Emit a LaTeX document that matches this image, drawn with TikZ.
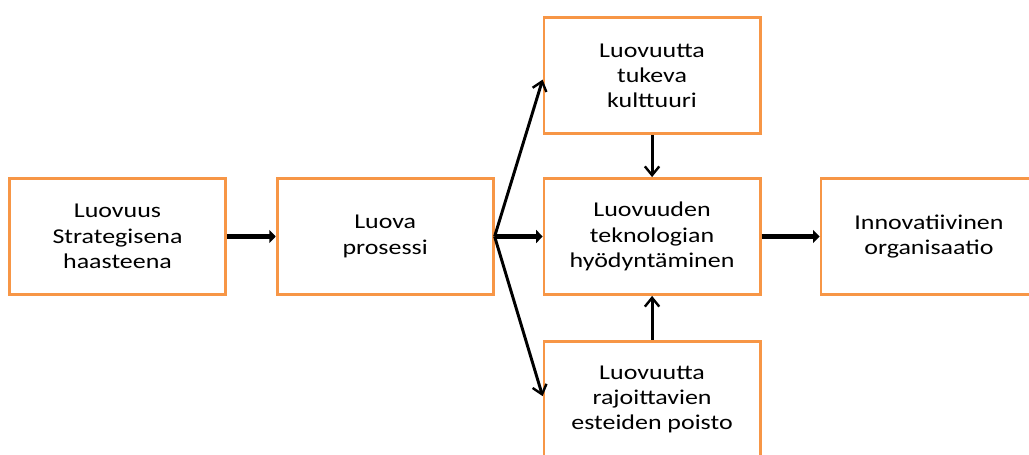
\documentclass[tikz,border=0pt]{standalone}
\usepackage{fontspec}
\setmainfont[FakeStretch=1.23]{Carlito}
\usepackage{tikz}
\usetikzlibrary{arrows.meta,positioning}
\definecolor{officeOrange}{HTML}{F79646}
\tikzstyle{recNode} = [rectangle, minimum width=5.4cm, minimum height=2.9cm, text centered, align=center, draw=officeOrange, line width=2pt, fill=white, font=\fontsize{15}{18}\selectfont]
\tikzstyle{arrow} = [line width=2.1pt,-{Straight Barb[length=2.2mm,width=3.6mm,line width=1.7pt]},draw=black]
\tikzstyle{arrowT} = [line width=3pt,-{Triangle[length=1.6mm,width=3.2mm]},draw=black]

\begin{document}
\begin{tikzpicture}[x=0.025cm,y=0.025cm]
    \useasboundingbox (0,0) rectangle (1029,454);
    \clip (0,0) rectangle (1029,454);
    \node (strategia) [recNode] at (117.5,217.5) {Luovuus\\Strategisena\\haasteena};
    \node (prosessi) [recNode, right=1.22cm of strategia] {Luova\\prosessi};
    \node (teknologia) [recNode, right=1.2cm of prosessi] {Luovuuden\\teknologian\\hyödyntäminen};
    \node (kulttuuri) [recNode, above=1.05cm of teknologia] {Luovuutta\\tukeva\\kulttuuri};
    \node (esteet) [recNode, below=1.1cm of teknologia] {Luovuutta\\rajoittavien\\esteiden poisto};
    \node (organisaatio) [recNode, right=1.45cm of teknologia] {Innovatiivinen\\organisaatio};

    \draw [arrowT] (strategia) -- (prosessi);
    \draw [arrowT] (prosessi) -- (teknologia);
    \draw [arrowT] (teknologia) -- (organisaatio);
    \draw [arrow] (prosessi.east) -- ([yshift=-0.1cm]kulttuuri.west);
    \draw [arrow] (prosessi.east) -- ([yshift=0.08cm]esteet.west);
    \draw [arrow] (kulttuuri) -- (teknologia);
    \draw [arrow] (esteet) -- (teknologia);
\end{tikzpicture}
\end{document}
